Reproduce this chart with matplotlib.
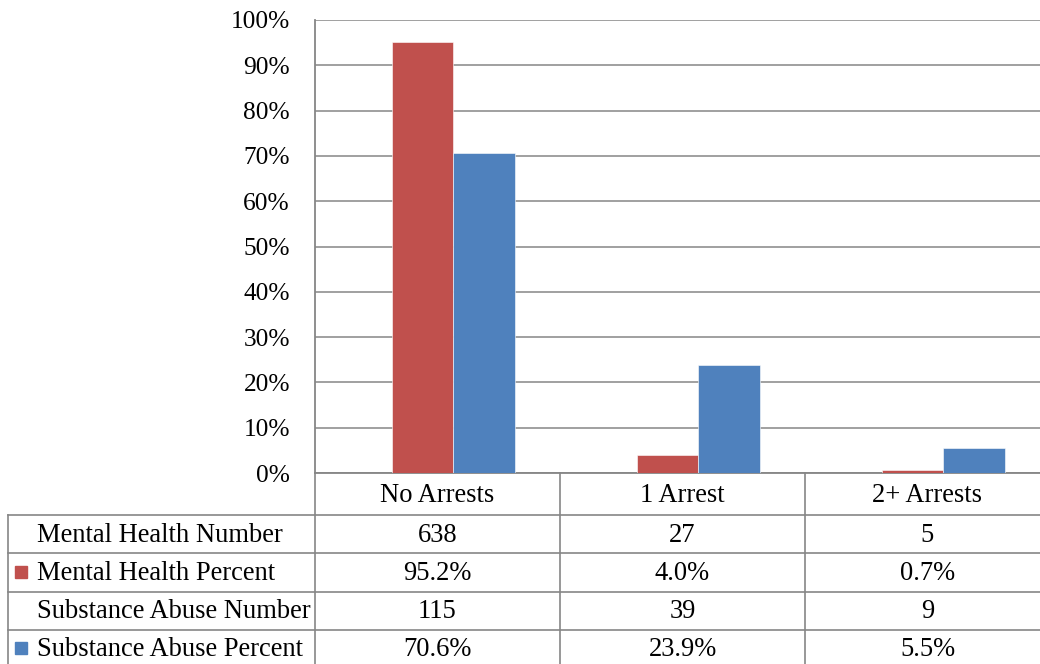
import numpy as np
import matplotlib.pyplot as plt

plt.rcParams['font.family'] = ['Liberation Serif', 'DejaVu Serif']

# data
categories = ['No Arrests', '1 Arrest', '2+ Arrests']
mh_number = [638, 27, 5]
mh_pct = [95.2, 4.0, 0.7]
sa_number = [115, 39, 9]
sa_pct = [70.6, 23.9, 5.5]

red = '#C0504D'
blue = '#4F81BD'
grey = '#868686'

W, H = 1040, 664
fig = plt.figure(figsize=(W / 100, H / 100), dpi=100)

# plot area in pixels: x 315..1050, y 20..473
ax = fig.add_axes([315 / W, 1 - 473 / H, 735 / W, 453 / H])
x = np.arange(len(categories)) + 0.565
bw = 0.252
ax.bar(x - bw / 2, np.array(mh_pct) / 100, bw, color=red, edgecolor='white', linewidth=0.4, zorder=3)
ax.bar(x + bw / 2, np.array(sa_pct) / 100, bw, color=blue, edgecolor='white', linewidth=0.4, zorder=3)
ax.set_xlim(0, 3)
ax.set_ylim(0, 1.0)
ax.set_yticks(np.arange(0, 1.01, 0.1))
ax.set_yticklabels([f'{int(round(t * 100))}%' for t in np.arange(0, 1.01, 0.1)], fontsize=18.3)
ax.tick_params(axis='y', length=0, pad=18)
ax.set_xticks([])
ax.yaxis.grid(True, color=grey, linewidth=1.1)
ax.set_axisbelow(True)
for s in ['top', 'right']:
    ax.spines[s].set_visible(False)
ax.spines['left'].set_color(grey)
ax.spines['bottom'].set_color(grey)
ax.spines['left'].set_linewidth(1.3)
ax.spines['bottom'].set_linewidth(1.3)
ax.patch.set_alpha(0)

# data table below the plot, drawn in pixel coordinates
tax = fig.add_axes([0, 0, 1, 1], zorder=-1)
tax.set_xlim(0, W)
tax.set_ylim(H, 0)
tax.axis('off')

col_edges = [315, 560, 805, 1050]
row_edges = [473, 515, 553, 592, 630, 668]
lc = dict(color=grey, linewidth=1.2)

for y in row_edges[1:-1]:
    tax.plot([8, W], [y, y], **lc)
for xe in col_edges[:-1]:
    tax.plot([xe, xe], [row_edges[0], H], **lc)
tax.plot([8, 8], [row_edges[1], H], **lc)

col_mid = [(col_edges[i] + col_edges[i + 1]) / 2 for i in range(3)]
fs = 19.1
for i, c in enumerate(categories):
    tax.text(col_mid[i], 496, c, ha='center', va='center', fontsize=fs)

rows = [
    ('Mental Health Number', [str(v) for v in mh_number], None),
    ('Mental Health Percent', [f'{v:.1f}%' for v in mh_pct], red),
    ('Substance Abuse Number', [str(v) for v in sa_number], None),
    ('Substance Abuse Percent', [f'{v:.1f}%' for v in sa_pct], blue),
]
row_mid = [535, 573, 611, 649]
for r, (label, vals, col) in enumerate(rows):
    yc = row_mid[r]
    tax.text(37, yc, label, ha='left', va='center', fontsize=fs)
    if col:
        tax.add_patch(plt.Rectangle((15, yc - 7), 12, 12, color=col))
    for i, v in enumerate(vals):
        tax.text(col_mid[i], yc, v, ha='center', va='center', fontsize=fs)

fig.savefig('out.png', dpi=100)
